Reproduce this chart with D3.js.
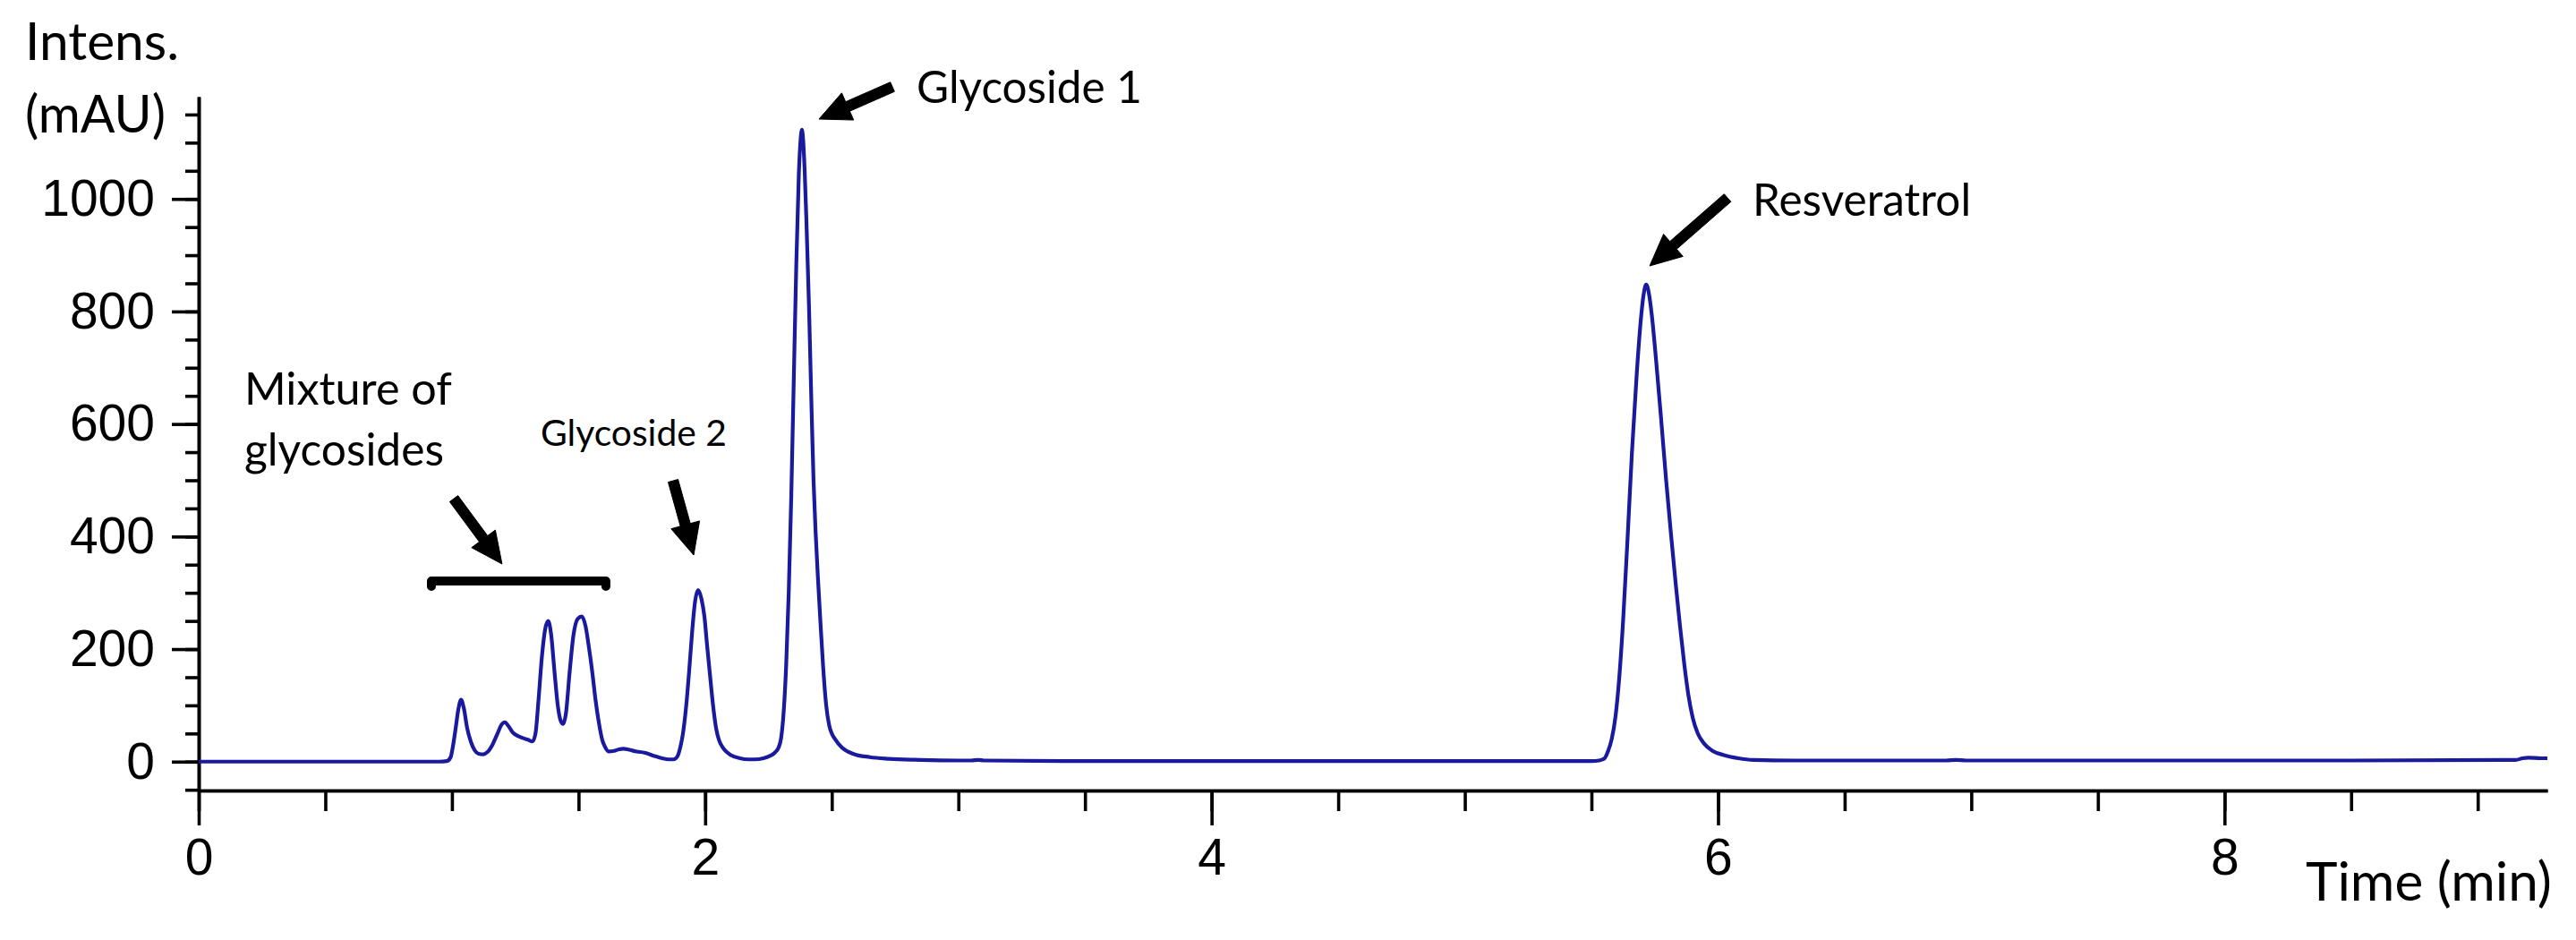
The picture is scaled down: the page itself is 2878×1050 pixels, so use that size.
<!DOCTYPE html>
<html><head><meta charset="utf-8">
<script src="https://cdn.jsdelivr.net/npm/d3@7/dist/d3.min.js"></script>
<style>body{margin:0;background:#fff;overflow:hidden}</style>
</head><body>
<svg id="chart" width="2878" height="1050"></svg>
<script>
// ---- data ----
const times = [
  0.00, 0.50, 0.95, 0.98, 0.995, 1.005, 1.015, 1.025, 1.036, 1.047, 1.06, 1.075, 1.09, 1.105, 1.124,
  1.14, 1.16, 1.18, 1.195, 1.209, 1.225, 1.24, 1.259, 1.28, 1.30, 1.318, 1.33, 1.342, 1.355, 1.368,
  1.38, 1.392, 1.405, 1.418, 1.43, 1.439, 1.45, 1.465, 1.48, 1.497, 1.513, 1.528, 1.542, 1.554, 1.567,
  1.58, 1.594, 1.605, 1.619, 1.64, 1.66, 1.678, 1.70, 1.73, 1.76, 1.80, 1.83, 1.855, 1.875, 1.89,
  1.902, 1.912, 1.926, 1.937, 1.949, 1.96, 1.972, 1.985, 1.997, 2.008, 2.02, 2.03, 2.043, 2.055, 2.07,
  2.085, 2.10, 2.137, 2.17, 2.196, 2.23, 2.255, 2.275, 2.29, 2.30, 2.31, 2.32, 2.33, 2.34, 2.35,
  2.36, 2.37, 2.376, 2.382, 2.387, 2.393, 2.40, 2.41, 2.42, 2.428, 2.436, 2.445, 2.455, 2.466, 2.478,
  2.49, 2.50, 2.513, 2.54, 2.584, 2.65, 2.725, 2.85, 3.00, 3.05, 3.08, 3.10, 3.50, 4.50, 5.40,
  5.50, 5.53, 5.55, 5.565, 5.58, 5.595, 5.61, 5.625, 5.643, 5.66, 5.679, 5.696, 5.706, 5.716, 5.727,
  5.738, 5.755, 5.775, 5.795, 5.814, 5.833, 5.85, 5.867, 5.883, 5.90, 5.92, 5.945, 5.978, 6.02, 6.08,
  6.14, 6.30, 6.90, 6.94, 6.98, 7.50, 8.50, 9.15, 9.177, 9.20, 9.25, 9.275
];
const intensity = [
  0, 0, 0, 1, 8, 30, 60, 92, 110, 95, 60, 35, 20, 14, 13,
  17, 30, 50, 65, 70, 62, 52, 46, 42, 39, 36, 50, 110, 185, 235,
  250, 225, 160, 100, 72, 67, 85, 160, 225, 254, 258, 240, 200, 160, 110,
  70, 38, 26, 18, 19, 22, 23, 21, 18, 16, 10, 6, 4, 4, 9,
  26, 49, 103, 162, 233, 284, 305, 290, 258, 205, 150, 105, 60, 38, 25,
  17, 12, 6, 4, 4, 6, 10, 16, 25, 42, 88, 172, 300, 470, 680,
  885, 1045, 1100, 1123, 1105, 1050, 960, 810, 630, 500, 410, 330, 250, 168, 100,
  64, 50, 40, 25, 14, 8, 5, 3, 2, 2, 3, 2, 1, 1, 1,
  1, 2, 5, 18, 40, 80, 150, 250, 400, 550, 690, 790, 830, 848, 832,
  795, 715, 610, 500, 405, 315, 240, 172, 118, 78, 50, 32, 19, 12, 6,
  3, 2, 2, 3, 2, 2, 2, 3, 6, 7, 6, 6
];
const xTickValues = [0, 2, 4, 6, 8];
const xTickLabels = ["0", "2", "4", "6", "8"];
const yTickValues = [0, 200, 400, 600, 800, 1000];
const yTickLabels = ["0", "200", "400", "600", "800", "1000"];
const peakLabels = ["Mixture of", "glycosides", "Glycoside 2", "Glycoside 1", "Resveratrol"];
const axisTitles = ["Intens.", "(mAU)", "Time (min)"];

// ---- layout ----
const svg = d3.select("#chart");
const x = d3.scaleLinear().domain([0, 9.275]).range([222, 2846]);
const y = d3.scaleLinear().domain([-51.3, 1181.7]).range([883, 108]);
const axisColor = "#000";
const tickFont = "'Liberation Sans', Arial, sans-serif";
const textFont = "Lato, 'Open Sans', sans-serif";

// x axis
const xMinor = d3.range(0, 9.01, 0.5);
const gx = svg.append("g").attr("transform", `translate(0,${y(-51.3)})`);
gx.call(d3.axisBottom(x).tickValues(xMinor).tickSize(23).tickSizeOuter(0).tickFormat(""));
const gxMaj = svg.append("g").attr("transform", `translate(0,${y(-51.3)})`);
gxMaj.call(d3.axisBottom(x).tickValues(xTickValues).tickSize(39).tickSizeOuter(0).tickPadding(15)
  .tickFormat((d, i) => xTickLabels[i]));

// y axis
const yMinor = d3.range(-50, 1151, 50);
const gy = svg.append("g").attr("transform", `translate(${x(0)},0)`);
gy.call(d3.axisLeft(y).tickValues(yMinor).tickSize(15).tickSizeOuter(0).tickFormat(""));
const gyMaj = svg.append("g").attr("transform", `translate(${x(0)},0)`);
gyMaj.call(d3.axisLeft(y).tickValues(yTickValues).tickSize(30).tickSizeOuter(0).tickPadding(19)
  .tickFormat((d, i) => yTickLabels[i]));

svg.selectAll(".domain, .tick line").attr("stroke", axisColor).attr("stroke-width", 3.6);
svg.selectAll(".tick text").attr("fill", "#000").style("font-family", tickFont).style("font-size", "57px");

// trace
const pts = times.map((t, i) => [t, intensity[i]]);
svg.append("path")
  .datum(pts)
  .attr("fill", "none")
  .attr("stroke", "#1a1a9e")
  .attr("stroke-width", 4.2)
  .attr("stroke-linejoin", "round")
  .attr("d", d3.line().x(d => x(d[0])).y(d => y(d[1])).curve(d3.curveMonotoneX));

// ---- annotations ----
function fitText(sel, targetW) {
  const w = sel.node().getComputedTextLength();
  const fs = parseFloat(sel.style("font-size"));
  sel.style("font-size", (fs * targetW / w) + "px");
}
function addText(str, px, py, targetW, size) {
  const t = svg.append("text").attr("x", px).attr("y", py).text(str)
    .attr("fill", "#000").style("font-family", textFont).style("font-size", size + "px");
  fitText(t, targetW);
  return t;
}
// axis titles (pixel layout)
addText(axisTitles[0], 28, 67, 172, 60);
addText(axisTitles[1], 28, 148, 157, 60);
addText(axisTitles[2], 2576, 1006, 275, 60);

// peak labels anchored in data coords
const labelPos = [[0.1803, 634.4, 232, 54], [0.1803, 526.2, 223, 54], [1.3503, 561, 208, 44],
                  [2.835, 1170.6, 252, 54], [6.1365, 970.1, 244, 54]];
peakLabels.forEach((s, i) => {
  const p = labelPos[i];
  addText(s, x(p[0]), y(p[1]), p[2], p[3]);
});

// arrows: [tailT, tailV, tipT, tipV]
const arrows = [[1.0074, 467.3, 1.198, 351.2], [1.8735, 499.1, 1.9548, 367.1],
                [2.7395, 1199.2, 2.4496, 1141.9], [6.0375, 1001.9, 5.730, 881.0]];
function arrowPath(x1, y1, x2, y2, sw, hl, hw) {
  const dx = x2 - x1, dy = y2 - y1, L = Math.hypot(dx, dy);
  const ux = dx / L, uy = dy / L, nx = -uy, ny = ux;
  const bx = x2 - ux * hl, by = y2 - uy * hl;
  const P = [[x1 + nx * sw / 2, y1 + ny * sw / 2], [bx + nx * sw / 2, by + ny * sw / 2],
             [bx + nx * hw / 2, by + ny * hw / 2], [x2, y2],
             [bx - nx * hw / 2, by - ny * hw / 2], [bx - nx * sw / 2, by - ny * sw / 2],
             [x1 - nx * sw / 2, y1 - ny * sw / 2]];
  return "M" + P.map(p => p.join(",")).join("L") + "Z";
}
arrows.forEach(a => {
  svg.append("path").attr("d", arrowPath(x(a[0]), y(a[1]), x(a[2]), y(a[3]), 11.5, 35, 33))
    .attr("fill", "#000").attr("stroke", "#000").attr("stroke-width", 1).attr("stroke-linejoin", "round");
});

// bracket over the glycoside mixture
const br = [0.919, 1.608, 320.9];
svg.append("path")
  .attr("d", `M${x(br[0])},${y(br[2]) + 6}V${y(br[2])}H${x(br[1])}V${y(br[2]) + 6}`)
  .attr("fill", "none").attr("stroke", "#000").attr("stroke-width", 10)
  .attr("stroke-linecap", "round").attr("stroke-linejoin", "round");
</script>
</body></html>
